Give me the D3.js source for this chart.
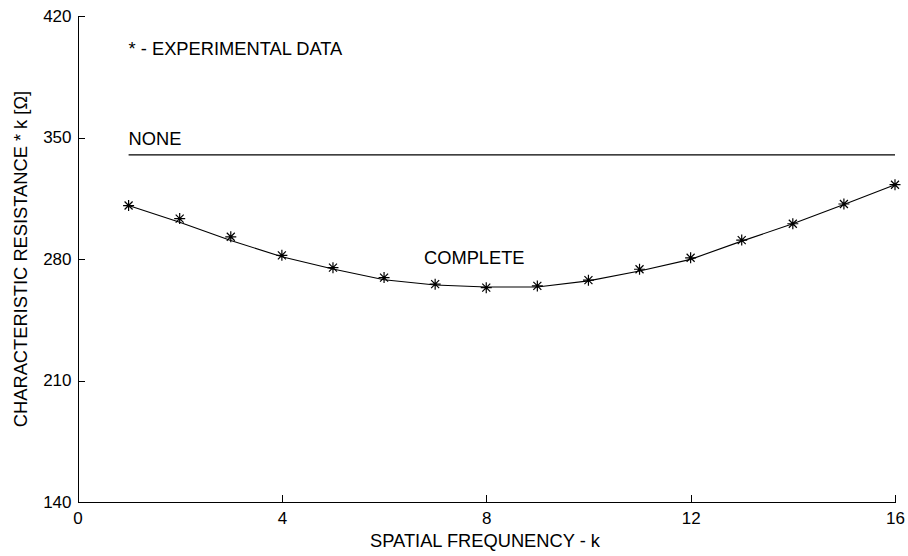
<!DOCTYPE html>
<html>
<head>
<meta charset="utf-8">
<script src="https://cdn.jsdelivr.net/npm/d3@7"></script>
<style>
  body { margin: 0; background: #fff; }
  svg { display: block; font-family: "Liberation Sans", Arial, sans-serif; }
  .axis text { font-size: 17px; fill: #000; }
  .axis path, .axis line { stroke: #000; }
  .note { font-size: 18.3px; fill: #000; }
</style>
</head>
<body>
<svg id="chart"></svg>
<script>
// spatial frequency k
const kValues = [1, 2, 3, 4, 5, 6, 7, 8, 9, 10, 11, 12, 13, 14, 15, 16];
// experimental data points (*)
const experimental = [310.8, 303.3, 292.8, 282.1, 275.0, 269.3, 265.5, 263.5, 264.5, 267.8, 274.1, 280.7, 290.9, 300.3, 311.7, 322.8];
// COMPLETE curve
const complete = [310.8, 301.2, 290.7, 281.3, 274.2, 268.0, 265.0, 263.9, 263.9, 267.4, 273.1, 279.8, 290.3, 300.3, 311.4, 322.8];
// NONE curve
const none = [340, 340, 340, 340, 340, 340, 340, 340, 340, 340, 340, 340, 340, 340, 340, 340];

const xTicks = [0, 4, 8, 12, 16];
const yTicks = [140, 210, 280, 350, 420];

const width = 908;
const height = 556;
const margin = { left: 77.5, right: 13, top: 16, bottom: 54 };

const svg = d3.select("#chart").attr("width", width).attr("height", height);

const x = d3.scaleLinear().domain([0, 16]).range([margin.left, width - margin.right]);
const y = d3.scaleLinear().domain([140, 420]).range([height - margin.bottom, margin.top]);

// x - axis
svg.append("g")
  .attr("class", "axis")
  .attr("transform", `translate(0,${y(140)})`)
  .call(d3.axisBottom(x).tickValues(xTicks).tickSizeInner(-7).tickSizeOuter(0).tickPadding(10))
  .attr("font-family", null).attr("font-size", null);

// y - axis
svg.append("g")
  .attr("class", "axis")
  .attr("transform", `translate(${x(0)},0)`)
  .call(d3.axisLeft(y).tickValues(yTicks).tickSizeInner(-7).tickSizeOuter(0).tickPadding(6))
  .attr("font-family", null).attr("font-size", null);

svg.selectAll(".axis path, .axis line").attr("shape-rendering", "crispEdges");

// axis titles
svg.append("text")
  .attr("class", "note")
  .attr("x", 485)
  .attr("y", 547)
  .attr("text-anchor", "middle")
  .text("SPATIAL FREQUNENCY - k");

svg.append("text")
  .attr("class", "note")
  .attr("transform", `translate(27,${y(280)}) rotate(-90)`)
  .attr("text-anchor", "middle")
  .text("CHARACTERISTIC RESISTANCE * k [\u03A9]");

// curves
const line = d3.line()
  .x((d, i) => x(kValues[i]))
  .y((d) => y(d));

svg.append("path")
  .datum(none)
  .attr("fill", "none")
  .attr("stroke", "#000")
  .attr("stroke-width", 1.1)
  .attr("d", line);

svg.append("path")
  .datum(complete)
  .attr("fill", "none")
  .attr("stroke", "#000")
  .attr("stroke-width", 1.1)
  .attr("d", line);

// experimental markers
const star = "M-5.5,0L5.5,0M0,-5.5L0,5.5M-4,-4L4,4M-4,4L4,-4";
svg.selectAll(".star")
  .data(experimental)
  .enter()
  .append("path")
  .attr("class", "star")
  .attr("transform", (d, i) => `translate(${x(kValues[i])},${y(d)})`)
  .attr("d", star)
  .attr("fill", "none")
  .attr("stroke", "#000")
  .attr("stroke-width", 1.2);

// labels
svg.append("text").attr("class", "note").attr("x", x(1)).attr("y", 55).text("* - EXPERIMENTAL DATA");
svg.append("text").attr("class", "note").attr("x", x(1)).attr("y", y(none[0]) - 10).text("NONE");
svg.append("text").attr("class", "note").attr("x", 424).attr("y", 264).text("COMPLETE");
</script>
</body>
</html>
